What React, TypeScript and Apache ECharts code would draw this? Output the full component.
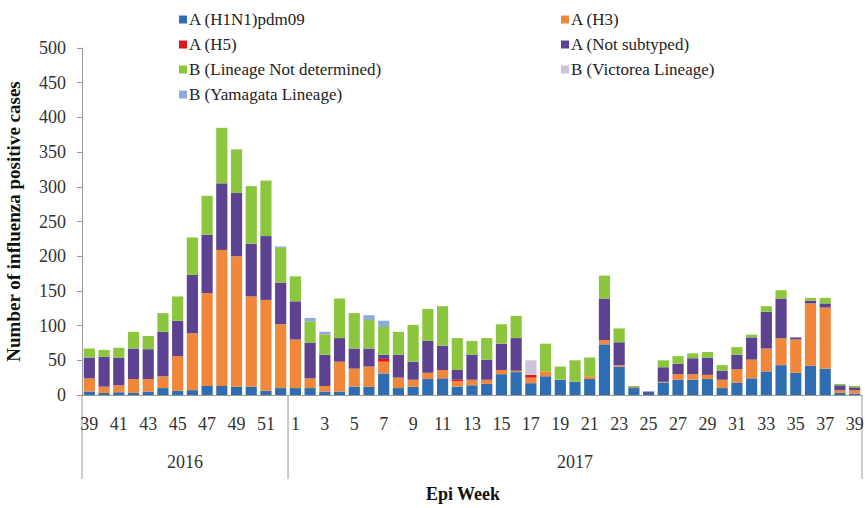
import React, { useEffect, useRef } from "react";
import * as echarts from "echarts";

const weeks2016 = ["39", "40", "41", "42", "43", "44", "45", "46", "47", "48", "49", "50", "51", "52"];
const weeks2017 = [
  "1", "2", "3", "4", "5", "6", "7", "8", "9", "10", "11", "12", "13", "14", "15", "16", "17", "18", "19", "20",
  "21", "22", "23", "24", "25", "26", "27", "28", "29", "30", "31", "32", "33", "34", "35", "36", "37", "38", "39",
];
const years = ["2016", "2017"];
const categories = [
  ...weeks2016.map((w) => `2016-${w}`),
  ...weeks2017.map((w) => `2017-${w}`),
];

const seriesNames = [
  "A (H1N1)pdm09",
  "A (H3)",
  "A (H5)",
  "A (Not subtyped)",
  "B (Lineage Not determined)",
  "B (Victorea Lineage)",
  "B (Yamagata Lineage)",
];
const legendLeftColumn = [seriesNames[0], seriesNames[2], seriesNames[4], seriesNames[6]];
const legendRightColumn = [seriesNames[1], seriesNames[3], seriesNames[5]];

const h1n1 = [
  5, 3, 4, 3, 5, 10, 6, 7, 13, 13, 12, 12, 6, 10,
  10, 10, 5, 5, 12, 12, 31, 10, 12, 23, 24, 12, 14, 16, 30, 33, 17, 27, 22, 19, 23, 73, 41, 9, 3, 18,
  22, 22, 23, 10, 18, 24, 34, 43, 32, 42, 38, 3, 2,
];
const h3 = [
  19, 9, 10, 20, 18, 17, 50, 82, 134, 196, 188, 130, 131, 92,
  70, 14, 8, 43, 26, 29, 17, 15, 10, 9, 12, 8, 8, 6, 6, 2, 8, 7, 0, 0, 4, 6, 2, 0, 0, 1,
  8, 8, 6, 12, 19, 27, 33, 39, 48, 90, 88, 4, 5,
];
const h5 = [
  0, 0, 0, 0, 0, 0, 0, 0, 0, 0, 0, 0, 0, 0,
  0, 0, 0, 0, 0, 0, 4, 0, 0, 0, 0, 2, 0, 0, 0, 0, 4, 0, 0, 0, 0, 0, 0, 0, 0, 0,
  0, 0, 0, 0, 0, 0, 0, 0, 0, 0, 0, 0, 0,
];
const notSubtyped = [
  30, 43, 40, 44, 43, 64, 51, 84, 84, 96, 91, 76, 92, 60,
  55, 51, 45, 34, 29, 26, 6, 33, 26, 46, 35, 14, 36, 29, 38, 47, 0, 0, 0, 0, 0, 60, 33, 2, 2, 21,
  15, 23, 25, 13, 21, 32, 53, 57, 3, 4, 6, 7, 4,
];
const bNotDetermined = [
  13, 10, 14, 24, 19, 27, 35, 54, 56, 80, 63, 83, 80, 50,
  36, 31, 29, 57, 51, 41, 40, 33, 53, 46, 57, 46, 20, 31, 28, 32, 0, 40, 19, 31, 27, 33, 20, 2, 0, 10,
  11, 7, 8, 8, 11, 4, 8, 12, 0, 4, 8, 2, 2,
];
const bVictoria = [
  0, 0, 0, 0, 0, 0, 0, 0, 0, 0, 0, 0, 0, 0,
  0, 0, 0, 0, 0, 0, 0, 0, 0, 0, 0, 0, 0, 0, 0, 0, 21, 0, 0, 0, 0, 0, 0, 0, 0, 0,
  0, 0, 0, 0, 0, 0, 0, 0, 0, 0, 0, 0, 0,
];
const bYamagata = [
  0, 0, 0, 0, 0, 0, 0, 0, 0, 0, 0, 0, 0, 2,
  0, 5, 4, 0, 0, 7, 9, 0, 0, 0, 0, 0, 0, 0, 0, 0, 0, 0, 0, 0, 0, 0, 0, 0, 0, 0,
  0, 0, 0, 0, 0, 0, 0, 0, 0, 0, 0, 0, 0,
];
const yTicks = { min: 0, max: 500, interval: 50 };

const seriesData = [h1n1, h3, h5, notSubtyped, bNotDetermined, bVictoria, bYamagata];
const colors = ["#2f6db3", "#f0873a", "#e3141c", "#5c4290", "#8cc63f", "#cbc3dc", "#8eaad8"];

const FONT = "'Liberation Serif', 'Times New Roman', serif";

export default function App() {
  const ref = useRef<HTMLDivElement>(null);
  useEffect(() => {
    if (!ref.current) return;
    const chart = echarts.init(ref.current, null, { renderer: "svg" });
    const legendCommon = {
      top: 6,
      orient: "vertical",
      icon: "rect",
      itemWidth: 8,
      itemHeight: 8,
      itemGap: 8,
      textStyle: { fontFamily: FONT, fontSize: 17, color: "#222", padding: [0, 0, 0, -3] },
    };
    const option: any = {
      animation: false,
      color: colors,
      textStyle: { fontFamily: FONT },
      legend: [
        { ...legendCommon, left: 174, data: legendLeftColumn },
        { ...legendCommon, left: 556, data: legendRightColumn },
      ],
      grid: { left: 82, right: 3, top: 48, bottom: 113, containLabel: false, outerBoundsMode: "none" },
      xAxis: {
        type: "category",
        data: categories,
        axisLine: { lineStyle: { color: "#999" } },
        axisTick: { show: false },
        axisLabel: {
          interval: 1,
          formatter: (v: string) => v.split("-")[1],
          fontFamily: FONT,
          fontSize: 18,
          color: "#333",
          margin: 20,
        },
        name: "Epi Week",
        nameLocation: "middle",
        nameGap: 90,
        nameTextStyle: { fontFamily: FONT, fontSize: 18, fontWeight: "bold", color: "#111", padding: [0, 18, 0, 0] },
      },
      yAxis: {
        type: "value",
        min: yTicks.min,
        max: yTicks.max,
        interval: yTicks.interval,
        axisLine: { show: true, lineStyle: { color: "#999" } },
        axisTick: { show: true, length: 5, lineStyle: { color: "#999" } },
        splitLine: { show: false },
        axisLabel: { fontFamily: FONT, fontSize: 18, color: "#333", margin: 16 },
        name: "Number of influenza positive cases",
        nameLocation: "middle",
        nameRotate: 90,
        nameGap: 59,
        nameTextStyle: { fontFamily: FONT, fontSize: 19, fontWeight: "bold", color: "#111" },
      },
      series: seriesNames.map((name, i) => ({
        name,
        type: "bar",
        stack: "total",
        data: seriesData[i],
        barCategoryGap: "24%",
        itemStyle: { color: colors[i] },
      })),
    };
    chart.setOption(option);

    const c0 = chart.convertToPixel({ xAxisIndex: 0 }, 0) as number;
    const c1 = chart.convertToPixel({ xAxisIndex: 0 }, 1) as number;
    const band = c1 - c0;
    const baseY = chart.convertToPixel({ yAxisIndex: 0 }, 0) as number;
    const n16 = weeks2016.length;
    const n = categories.length;
    const bounds = [c0 - band / 2, c0 + (n16 - 0.5) * band, c0 + (n - 0.5) * band];
    const graphic: any[] = bounds.map((x) => ({
      type: "line",
      shape: { x1: x, y1: baseY, x2: x, y2: baseY + 84 },
      style: { stroke: "#999", lineWidth: 1 },
    }));
    years.forEach((yr, i) => {
      const cx = (bounds[i] + bounds[i + 1]) / 2;
      graphic.push({
        type: "text",
        x: cx,
        y: baseY + 67,
        style: {
          text: yr,
          fontFamily: FONT,
          fontSize: 18,
          fill: "#333",
          textAlign: "center",
          textVerticalAlign: "middle",
        },
      });
    });
    chart.setOption({ graphic });

    return () => chart.dispose();
  }, []);
  return <div ref={ref} style={{ position: "absolute", left: 0, top: 0, width: 865, height: 508 }} />;
}
